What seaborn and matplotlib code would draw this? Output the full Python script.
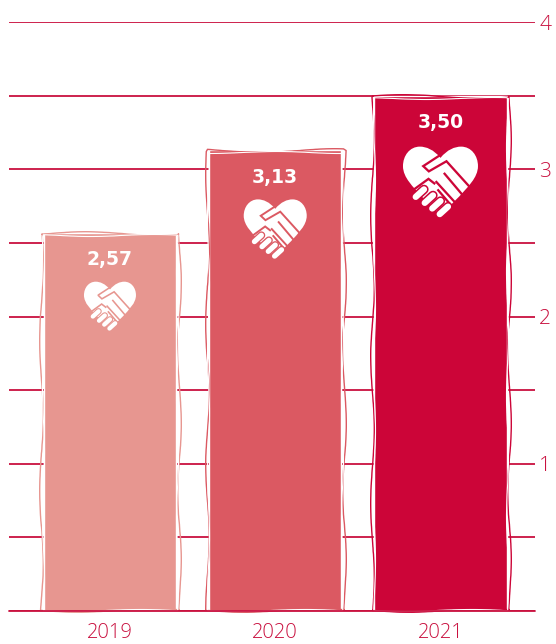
import matplotlib
matplotlib.use("Agg")
import matplotlib.pyplot as plt
from matplotlib.patches import PathPatch, Rectangle
from matplotlib.path import Path
from matplotlib.transforms import Affine2D
import pandas as pd
import seaborn as sns

years = ["2019", "2020", "2021"]
values = [2.57, 3.13, 3.50]
value_labels = ["2,57", "3,13", "3,50"]
bar_colors = ["#E79690", "#DB5962", "#CC0538"]
y_ticks = [0, 0.5, 1, 1.5, 2, 2.5, 3, 3.5, 4]
y_tick_labels = ["", "", "1", "", "2", "", "3", "", "4"]
icon_widths = [52, 63, 75]
icon_drops = [72, 77, 84]

LINE = "#C9103F"
W, H = 556, 644

sns.set_theme(style="white")
plt.rcParams["font.family"] = ["Open Sans", "DejaVu Sans"]

fig = plt.figure(figsize=(W / 100, H / 100), dpi=100, facecolor="white")
ax = fig.add_axes([9 / W, 1 - 611 / H, 526 / W, 589 / H])

frame = pd.DataFrame({"year": years, "value": values})
sns.barplot(data=frame, x="year", y="value", hue="year", palette=bar_colors,
            width=0.8, legend=False, saturation=1, ax=ax, zorder=2)

ax.set_xlim(-0.611, 2.572)
ax.set_ylim(0, 4)
ax.set_xlabel("")
ax.set_ylabel("")
sns.despine(ax=ax, left=True, bottom=True, right=True, top=True)
ax.set_axisbelow(True)
ax.yaxis.grid(True, color=LINE, lw=1.3)
ax.xaxis.grid(False)
ax.yaxis.tick_right()
ax.set_yticks(y_ticks)
ax.set_yticklabels(y_tick_labels)
ax.tick_params(axis="y", length=0, pad=3, labelsize=15, labelcolor=LINE)
ax.tick_params(axis="x", length=0, pad=8.5, labelsize=14.5, labelcolor=LINE)
for lab in ax.get_xticklabels() + ax.get_yticklabels():
    lab.set_fontweight("light")
ax.axhline(0, color=LINE, lw=1.3, zorder=6, clip_on=False)
fig.canvas.draw()

inv = ax.transData.inverted()
px_x = inv.transform((1, 0))[0] - inv.transform((0, 0))[0]
px_y = inv.transform((0, 1))[1] - inv.transform((0, 0))[1]


def sketch_frame(bar, grow_x, grow_y, color, lw, scale, length, rand):
    """Hand-drawn outline around a bar, grown or shrunk by a number of pixels."""
    x0, y0, w, h = bar.get_x(), bar.get_y(), bar.get_width(), bar.get_height()
    r = Rectangle((x0 - grow_x * px_x, y0 + 1.5 * px_y), w + 2 * grow_x * px_x,
                  h - 1.5 * px_y + grow_y * px_y,
                  fill=False, ec=color, lw=lw, zorder=3, clip_on=False)
    r.set_sketch_params(scale=scale, length=length, randomness=rand)
    ax.add_patch(r)


# Heart with a handshake, in a unit box: x from -1 to 1, y upwards
heart_verts = [
    (0.0, 0.58),
    (-0.18, 0.80), (-0.38, 0.88), (-0.55, 0.88),
    (-0.82, 0.88), (-1.0, 0.64), (-1.0, 0.36),
    (-1.0, 0.05), (-0.72, -0.20), (-0.50, -0.45),
    (-0.30, -0.65), (-0.12, -0.82), (0.0, -0.98),
    (0.12, -0.82), (0.30, -0.65), (0.50, -0.45),
    (0.72, -0.20), (1.0, 0.05), (1.0, 0.36),
    (1.0, 0.64), (0.82, 0.88), (0.55, 0.88),
    (0.38, 0.88), (0.18, 0.80), (0.0, 0.58),
]
heart_codes = [Path.MOVETO] + [Path.CURVE4] * 24
heart_path = Path(heart_verts, heart_codes)

cut_lines = [
    [(0.0, 0.66), (-0.46, 0.36), (-0.31, 0.22), (0.16, 0.49), (0.82, -0.24)],
    [(0.09, 0.18), (0.58, -0.40)],
    [(-0.13, -0.04), (0.40, -0.62)],
    [(-0.76, -0.30), (-0.32, 0.02), (-0.14, -0.12)],
    [(-0.08, -0.26), (0.28, -0.68)],
]
fingers = [
    [(-0.66, -0.46), (-0.44, -0.26)],
    [(-0.42, -0.62), (-0.20, -0.42)],
    [(-0.22, -0.77), (0.00, -0.57)],
    [(-0.02, -0.92), (0.20, -0.72)],
]


def draw_icon(cx, cy, width, color):
    xf = Affine2D().scale(width / 2).translate(cx, cy)
    ax.add_patch(PathPatch(heart_path, fc="white", ec="none", transform=xf, zorder=7))
    for pts in cut_lines:
        ax.add_patch(PathPatch(Path(pts), fc="none", ec=color, lw=width * 0.022, transform=xf,
                               zorder=8, capstyle="butt", joinstyle="miter"))
    # Each finger sits on a wider band of the bar colour that parts it from its neighbour
    for pts in fingers:
        ax.add_patch(PathPatch(Path(pts), fc="none", ec=color, lw=width * 0.09, transform=xf,
                               zorder=9, capstyle="round"))
    for pts in fingers:
        ax.add_patch(PathPatch(Path(pts), fc="none", ec="white", lw=width * 0.06, transform=xf,
                               zorder=10, capstyle="round"))


for bar, label, color, iw, drop in zip(ax.patches, value_labels, bar_colors, icon_widths, icon_drops):
    sketch_frame(bar, 2.5, 0.0, color, 1.0, 1.8, 160, 2)
    sketch_frame(bar, 0.7, -2.2, "white", 0.8, 1.0, 140, 2)
    cx = bar.get_x() + bar.get_width() / 2
    top = bar.get_height()
    ax.annotate(label, (cx, top), xytext=(0, -19.5), textcoords="offset points",
                ha="center", va="center", color="white", fontsize=13.5,
                fontweight="bold", family=["DejaVu Sans"], zorder=7)
    px, py = ax.transData.transform((cx, top))
    draw_icon(px, py - drop, iw, color)

fig.savefig("out.png", dpi=100, facecolor="white")
